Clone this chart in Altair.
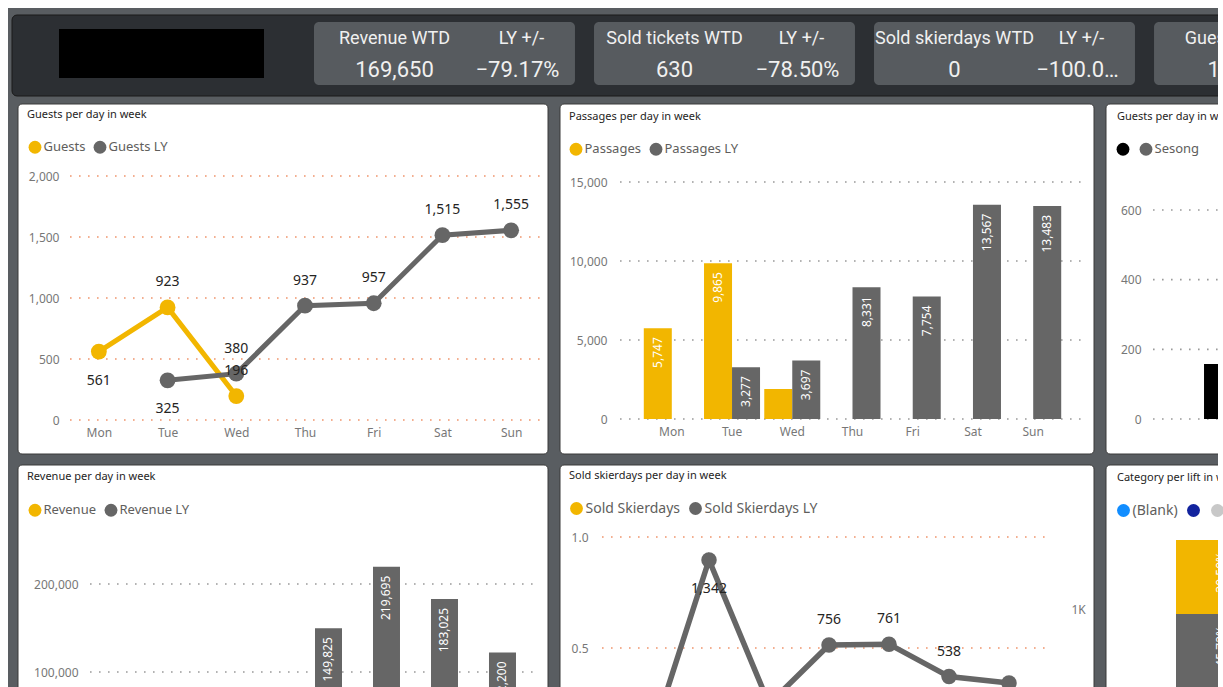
import altair as alt
import pandas as pd

# ---------------- data ----------------
days = ["Mon", "Tue", "Wed", "Thu", "Fri", "Sat", "Sun"]

kpi_titles = ["Revenue WTD", "Sold tickets WTD", "Sold skierdays WTD", "Guests WTD"]
kpi_values = [169650, 630, 0, 1680]
kpi_ly_pct = [-79.17, -78.50, -100.00, None]
kpi_ly_title = "LY +/-"

guests_days = ["Mon", "Tue", "Wed"]
guests = [561, 923, 196]
guests_ly_days = ["Tue", "Wed", "Thu", "Fri", "Sat", "Sun"]
guests_ly = [325, 380, 937, 957, 1515, 1555]
guests_ticks = [0, 500, 1000, 1500, 2000]
guests_below = [("Guests", "Mon"), ("Guests LY", "Tue")]

passages_days = ["Mon", "Tue", "Wed"]
passages = [5747, 9865, 1900]
passages_ly_days = ["Tue", "Wed", "Thu", "Fri", "Sat", "Sun"]
passages_ly = [3277, 3697, 8331, 7754, 13567, 13483]
passages_ticks = [0, 5000, 10000, 15000]

season_series = ["", "Sesong"]
season_days = ["Mon"]
season_values = [158]
season_ticks = [0, 200, 400, 600]

revenue_series = ["Revenue", "Revenue LY"]
revenue_ly_days = ["Thu", "Fri", "Sat", "Sun"]
revenue_ly = [149825, 219695, 183025, 122200]
revenue_ticks = [0, 100000, 200000]

skier_series = ["Sold Skierdays", "Sold Skierdays LY"]
skier_days = ["Mon", "Tue", "Wed"]
skierdays = [0, 0, 0]
skier_ly = [59, 1342, 349, 756, 761, 538, 494]
skier_ticks = [0, 0.5, 1.0]
skier_ly_ticks = [0, 1000]
skier_ly_below = ["Mon", "Tue", "Wed", "Sun"]

cat_legend = ["(Blank)", "", " ", "Category A", "Category B"]
cat_segments = ["Category B", "Category A"]   # bottom -> top
cat_share = [0.4572, 0.3050]
lift_names = ["Lift"]

# ---------------- style / layout ----------------
W, H = 1223, 687
FONT = "Noto Sans"
KPI_FONT = "Roboto"
YELLOW = "#F2B600"
GRAY = "#666666"
DARK_TXT = "#252423"
AXIS_TXT = "#777777"
LEGEND_TXT = "#605E5C"
SALMON = "#F0956C"
DOTGRAY = "#9A9A9A"
PAGE_BG = "#595D61"
HEADER_BG = "#2C2F33"
CARD_BG = "#575B5F"
KPI_TXT = "#F0F0F0"
PAIR = [YELLOW, GRAY]

ONE = alt.Data(values=[{"k": 0}])


def rect(x, y, x2, y2, fill, stroke=None, radius=0):
    kw = dict(fill=fill, cornerRadius=radius)
    if stroke:
        kw.update(stroke=stroke, strokeWidth=1)
    else:
        kw.update(strokeWidth=0)
    return alt.Chart(ONE).mark_rect(**kw).encode(
        x=alt.value(x), x2=alt.value(x2), y=alt.value(y), y2=alt.value(y2))


def caption(text, x, y):
    return alt.Chart(ONE).mark_text(text=text, align="left", baseline="middle", font=FONT,
                                    fontSize=11, color=DARK_TXT).encode(x=alt.value(x), y=alt.value(y))


def legend(x, y, size=13):
    return alt.Legend(orient="none", legendX=x, legendY=y, direction="horizontal", title=None,
                      symbolType="circle", symbolSize=165, symbolStrokeWidth=0, symbolOpacity=1,
                      labelFont=FONT, labelFontSize=size, labelColor=LEGEND_TXT, labelOffset=2,
                      columnPadding=8, padding=0, zindex=1)


def yaxis(x, values, fmt=",.0f", orient="left", pad=6, expr=None):
    kw = dict(orient=orient, offset=(-x if orient == "left" else x - W), values=values, format=fmt,
              title=None, domain=False, ticks=False, tickSize=0, grid=False, labelPadding=pad,
              labelFont=FONT, labelFontSize=12, labelColor=AXIS_TXT, zindex=1)
    if expr:
        kw["labelExpr"] = expr
    return alt.Axis(**kw)


def xaxis(y):
    return alt.Axis(orient="bottom", offset=y - H, title=None, domain=False, ticks=False, tickSize=0,
                    grid=False, labelPadding=7, labelFont=FONT, labelFontSize=12, labelColor=AXIS_TXT,
                    zindex=1, labelAngle=0)


def grid(ticks, y_enc, x0, x1, color):
    return alt.Chart(pd.DataFrame({"value": ticks})).mark_rule(
        color=color, strokeWidth=1.6, strokeDash=[1.6, 7.4]).encode(
        y=y_enc, x=alt.value(x0), x2=alt.value(x1))


def series_lines(df, x_enc, y_enc, series, colors, width):
    return [alt.Chart(df).transform_filter(alt.datum.series == s).mark_line(
        strokeWidth=width, color=c).encode(x=x_enc, y=y_enc) for s, c in zip(series, colors)]


def point_labels(df, x_enc, y_enc, below):
    flt = "datum.below" if below else "!datum.below"
    return alt.Chart(df).transform_filter(flt).mark_text(
        dy=29 if below else -25, fontSize=14, font=FONT, color=DARK_TXT, baseline="middle").encode(
        x=x_enc, y=y_enc, text=alt.Text("value:Q", format=","))


def bar_labels(df, x_enc, xo_enc, y_enc, min_value):
    return alt.Chart(df).transform_filter(f"datum.value > {min_value}").mark_text(
        angle=270, align="right", baseline="middle", dx=-9, fontSize=12, font=FONT, color="white").encode(
        x=x_enc, xOffset=xo_enc, y=y_enc, text=alt.Text("value:Q", format=","))


# ---------------- page + header ----------------
page_bg = rect(8, 8, 1218, 700, PAGE_BG)

kpi_df = pd.DataFrame({"card": kpi_titles, "value": kpi_values, "ly": kpi_ly_pct})
hx = alt.X("card:N", sort=kpi_titles,
           scale=alt.Scale(type="band", domain=kpi_titles, range=[314, 1415], paddingInner=0.068, paddingOuter=0),
           axis=None)
cards = alt.Chart(kpi_df).mark_rect(fill=CARD_BG, cornerRadius=5).encode(x=hx, y=alt.value(22), y2=alt.value(85))
t_title = alt.Chart(kpi_df).mark_text(dx=-50, font=KPI_FONT, fontSize=18, color=KPI_TXT, baseline="middle").encode(
    x=hx, y=alt.value(39), text="card:N")
t_lyt = alt.Chart(kpi_df).mark_text(text=kpi_ly_title, dx=77, font=KPI_FONT, fontSize=18, color=KPI_TXT,
                                    baseline="middle").encode(x=hx, y=alt.value(39))
t_val = alt.Chart(kpi_df).mark_text(dx=-50, font=KPI_FONT, fontSize=22, color=KPI_TXT, baseline="middle").encode(
    x=hx, y=alt.value(70), text=alt.Text("value:Q", format=","))
t_ly = alt.Chart(kpi_df).transform_filter("isValid(datum.ly)").transform_calculate(
    lytxt="format(datum.ly, '.2f') + '%'").mark_text(
    dx=73, limit=88, font=KPI_FONT, fontSize=22, color=KPI_TXT, baseline="middle").encode(
    x=hx, y=alt.value(70), text="lytxt:N")
header = alt.layer(rect(12, 15, 1240, 96, HEADER_BG, stroke="#1A1A1A", radius=5),
                   rect(59, 29, 264, 78, "#000000"),
                   cards, t_title, t_lyt, t_val, t_ly)

# ---------------- panel 1: guests line ----------------
g_series = ["Guests", "Guests LY"]
g_df = pd.DataFrame({"day": guests_days + guests_ly_days, "value": guests + guests_ly,
                     "series": [g_series[0]] * len(guests) + [g_series[1]] * len(guests_ly)})
g_df["below"] = [(s, d) in guests_below for s, d in zip(g_df["series"], g_df["day"])]
x1 = alt.X("day:N", sort=days, scale=alt.Scale(type="point", domain=days, range=[70, 540], padding=0.42),
           axis=xaxis(420))
y1 = alt.Y("value:Q", scale=alt.Scale(domain=[0, 2000], range=[420, 176], nice=False, zero=False),
           axis=yaxis(65, guests_ticks))
p1 = alt.layer(
    rect(18, 104, 548, 454, "white", stroke="#3A3A3A", radius=4),
    caption("Guests per day in week", 27, 115),
    grid(guests_ticks, y1, 70, 540, SALMON),
    *series_lines(g_df, x1, y1, g_series, PAIR, 5),
    alt.Chart(g_df).mark_circle(size=250, opacity=1).encode(
        x=x1, y=y1, color=alt.Color("series:N", scale=alt.Scale(domain=g_series, range=PAIR),
                                    legend=legend(28.5, 140.5))),
    point_labels(g_df, x1, y1, False),
    point_labels(g_df, x1, y1, True),
)

# ---------------- panel 2: passages bars ----------------
p_series = ["Passages", "Passages LY"]
p_df = pd.DataFrame({"day": passages_days + passages_ly_days, "value": passages + passages_ly,
                     "series": [p_series[0]] * len(passages) + [p_series[1]] * len(passages_ly)})
x2 = alt.X("day:N", sort=days, scale=alt.Scale(type="band", domain=days, range=[620, 1085],
                                               paddingInner=0.07, paddingOuter=0.395), axis=xaxis(419))
xo2 = alt.XOffset("series:N", scale=alt.Scale(domain=p_series, paddingInner=0, paddingOuter=0))
y2 = alt.Y("value:Q", scale=alt.Scale(domain=[0, 15000], range=[419, 182], nice=False, zero=False),
           axis=yaxis(613, passages_ticks))
p2 = alt.layer(
    rect(560, 104, 1094, 454, "white", stroke="#3A3A3A", radius=4),
    caption("Passages per day in week", 569, 117),
    grid(passages_ticks, y2, 620, 1085, DOTGRAY),
    alt.Chart(p_df).mark_bar().encode(
        x=x2, xOffset=xo2, y=y2,
        color=alt.Color("series:N", scale=alt.Scale(domain=p_series, range=PAIR),
                        legend=legend(569.5, 142.5))),
    bar_labels(p_df, x2, xo2, y2, 2500),
)

# ---------------- panel 3: season bars (cut) ----------------
s3_df = pd.DataFrame({"day": season_days, "value": season_values, "series": [season_series[0]] * len(season_values)})
x3 = alt.X("day:N", sort=days, scale=alt.Scale(type="band", domain=days, range=[1153, 1671],
                                               paddingInner=0.07, paddingOuter=0.85), axis=None)
xo3 = alt.XOffset("series:N", scale=alt.Scale(domain=season_series, paddingInner=0, paddingOuter=0))
y3 = alt.Y("value:Q", scale=alt.Scale(domain=[0, 600], range=[419, 210], nice=False, zero=False),
           axis=yaxis(1147, season_ticks))
p3 = alt.layer(
    rect(1106, 104, 1240, 454, "white", stroke="#3A3A3A", radius=4),
    caption("Guests per day in week", 1117, 117),
    grid(season_ticks, y3, 1153, 1671, DOTGRAY),
    alt.Chart(s3_df).mark_bar().encode(
        x=x3, xOffset=xo3, y=y3,
        color=alt.Color("series:N", scale=alt.Scale(domain=season_series, range=["#000000", GRAY]),
                        legend=legend(1116.5, 142.5))),
)

# ---------------- panel 4: revenue bars ----------------
r_df = pd.DataFrame({"day": revenue_ly_days, "value": revenue_ly, "series": [revenue_series[1]] * len(revenue_ly)})
x4 = alt.X("day:N", sort=days, scale=alt.Scale(type="band", domain=days, range=[90, 540],
                                               paddingInner=0.069, paddingOuter=0.414), axis=None)
xo4 = alt.XOffset("series:N", scale=alt.Scale(domain=revenue_series, paddingInner=0, paddingOuter=0))
y4 = alt.Y("value:Q", scale=alt.Scale(domain=[0, 250000], range=[760, 540], nice=False, zero=False),
           axis=yaxis(84, revenue_ticks))
p4 = alt.layer(
    rect(18, 465, 548, 700, "white", stroke="#3A3A3A", radius=4),
    caption("Revenue per day in week", 27, 477),
    grid(revenue_ticks, y4, 90, 540, DOTGRAY),
    alt.Chart(r_df).mark_bar().encode(
        x=x4, xOffset=xo4, y=y4,
        color=alt.Color("series:N", scale=alt.Scale(domain=revenue_series, range=PAIR),
                        legend=legend(28.5, 503.5))),
    bar_labels(r_df, x4, xo4, y4, 0),
)

# ---------------- panel 5: sold skierdays dual-axis lines ----------------
s_df = pd.DataFrame({"day": skier_days, "value": skierdays, "series": [skier_series[0]] * len(skierdays)})
sly_df = pd.DataFrame({"day": days, "value": skier_ly, "series": [skier_series[1]] * len(skier_ly)})
sly_df["below"] = sly_df["day"].isin(skier_ly_below)
x5 = alt.X("day:N", sort=days, scale=alt.Scale(type="point", domain=days, range=[604, 1054], padding=0.75),
           axis=None)
y5l = alt.Y("value:Q", scale=alt.Scale(domain=[0, 1], range=[759, 537], nice=False, zero=False),
            axis=yaxis(594, skier_ticks, fmt=".1f"))
y5r = alt.Y("value:Q", scale=alt.Scale(domain=[0, 1500], range=[754.6, 537], nice=False, zero=False),
            axis=yaxis(1064, skier_ly_ticks, orient="right", pad=7,
                       expr="datum.value >= 1000 ? (datum.value / 1000) + 'K' : datum.label"))
color5 = alt.Color("series:N", scale=alt.Scale(domain=skier_series, range=PAIR),
                   legend=legend(569.5, 501.5, 14))
left5 = alt.layer(
    grid(skier_ticks, y5l, 602, 1052, SALMON),
    *series_lines(s_df, x5, y5l, skier_series[:1], PAIR[:1], 5.5),
    alt.Chart(s_df).mark_circle(size=240, opacity=1).encode(x=x5, y=y5l, color=color5),
)
right5 = alt.layer(
    *series_lines(sly_df, x5, y5r, skier_series[1:], PAIR[1:], 5.5),
    alt.Chart(sly_df).mark_circle(size=240, opacity=1).encode(x=x5, y=y5r, color=color5),
    point_labels(sly_df, x5, y5r, False),
    point_labels(sly_df, x5, y5r, True),
)
p5 = alt.layer(
    rect(560, 465, 1094, 700, "white", stroke="#3A3A3A", radius=4),
    caption("Sold skierdays per day in week", 569, 476),
    left5, right5,
).resolve_scale(y="independent")

# ---------------- panel 6: category per lift (cut) ----------------
cat_df = pd.DataFrame({"lift": lift_names * len(cat_segments), "category": cat_segments, "share": cat_share,
                       "order": list(range(len(cat_segments)))})
x6 = alt.X("lift:N", scale=alt.Scale(type="band", domain=lift_names, range=[1176, 1266],
                                     paddingInner=0, paddingOuter=0), axis=None)
y6s = alt.Scale(domain=[0, 1], range=[724.9, 482.3], nice=False, zero=False)
stacked = alt.Chart(cat_df).transform_stack(
    stack="share", as_=["s0", "s1"], groupby=["lift"], sort=[alt.SortField("order", order="ascending")])
p6 = alt.layer(
    rect(1106, 465, 1240, 700, "white", stroke="#3A3A3A", radius=4),
    caption("Category per lift in week", 1117, 478),
    stacked.mark_bar().encode(
        x=x6, y=alt.Y("s0:Q", scale=y6s, axis=None), y2="s1:Q",
        color=alt.Color("category:N", scale=alt.Scale(domain=cat_legend,
                                                      range=["#118DFF", "#12239E", "#C8C8C8", YELLOW, GRAY]),
                        legend=legend(1116.5, 503.5, 14))),
    stacked.mark_text(angle=270, align="right", baseline="middle", dx=-12, fontSize=12, font=FONT,
                      color="white").encode(
        x=x6, y=alt.Y("s1:Q", scale=y6s, axis=None), text=alt.Text("share:Q", format=".2%")),
)

strip = rect(1218, 0, 1224, 700, "white")

chart = alt.layer(page_bg, header, p1, p2, p3, p4, p5, p6, strip).resolve_scale(
    x="independent", y="independent", color="independent", xOffset="independent"
).properties(
    width=W, height=H, autosize=alt.AutoSizeParams(type="none"), padding=0, background="white"
).configure_view(stroke=None)

chart.save("out.html", embed_options={"renderer": "svg", "actions": False})
